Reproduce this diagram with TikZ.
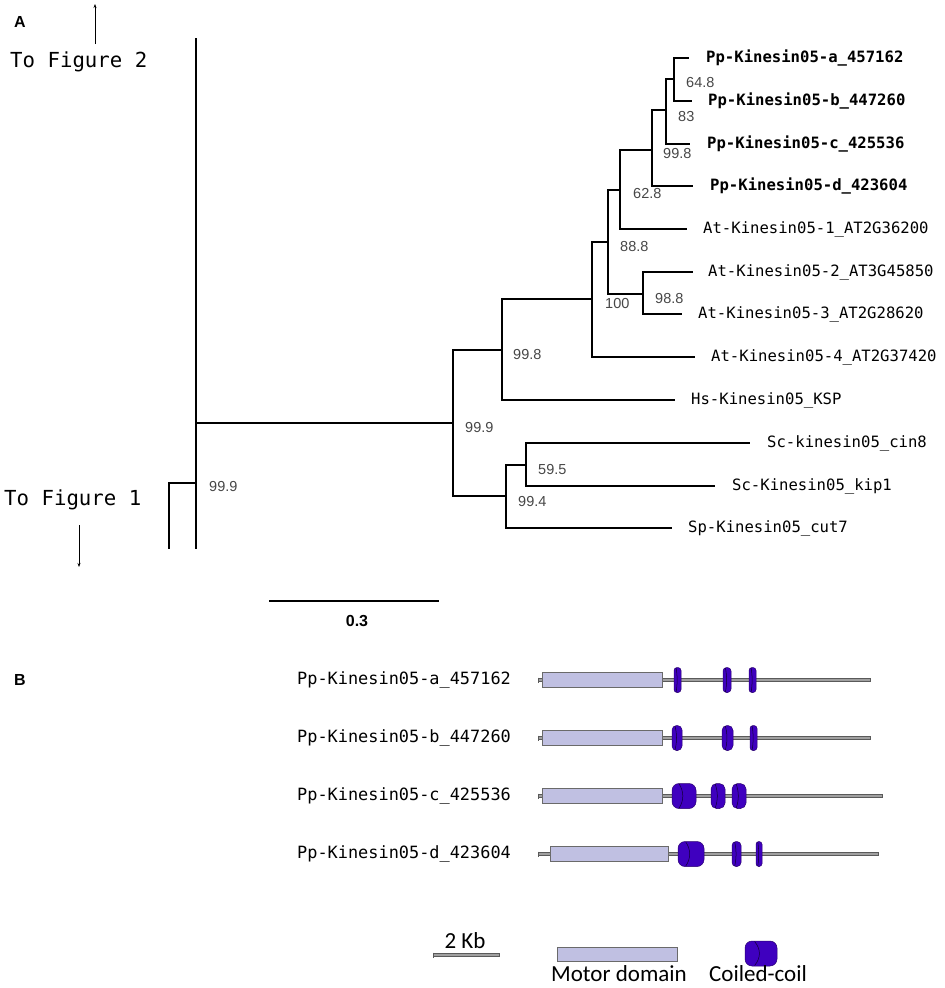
\documentclass[tikz,border=0pt]{standalone}
\usepackage{fontspec}
\setmainfont{Liberation Sans}
\newfontfamily\monofont{DejaVu Sans Mono}
\newfontfamily\calfont{Carlito}
\usetikzlibrary{arrows.meta,calc}
\definecolor{coilfill}{HTML}{3F00BF}
\definecolor{coiledge}{HTML}{2A0070}
\definecolor{motorfill}{HTML}{C0C0E2}
\definecolor{motoredge}{HTML}{6A6A6A}
\definecolor{bonefill}{HTML}{A0A0A0}
\definecolor{boneedge}{HTML}{5A5A5A}
\newcommand\mycoil[5]{% xl, xr, yc, h, r
  \filldraw[fill=coilfill,draw=coiledge,line width=0.5pt,rounded corners=#5]
    (#1,#3-#4/2) rectangle (#2,#3+#4/2);
  \draw[black!75!coilfill,line width=0.5pt]
    ({#1+0.3*(#2-#1)},#3-#4/2+0.5) .. controls ({#1+0.5*(#2-#1)},#3-#4/6) and ({#1+0.5*(#2-#1)},#3+#4/6) .. ({#1+0.3*(#2-#1)},#3+#4/2-0.5);
}
\newcommand\mymotor[3]{% xl, xr, yc
  \filldraw[fill=motorfill,draw=motoredge,line width=0.8pt] (#1,#3-7.5) rectangle (#2,#3+7.5);
}
\newcommand\mybone[3]{% xl, xr, yc
  \filldraw[fill=bonefill,draw=boneedge,line width=0.5pt] (#1,#3-1.6) rectangle (#2,#3+1.6);
  \draw[boneedge,line width=0.8pt] (#1,#3-2.5) -- (#1,#3+2.5);
}
\begin{document}
\begin{tikzpicture}[x=1pt,y=-1pt,
  branch/.style={line width=1.2pt,black},
  rootline/.style={line width=2.8pt,black},
  leaf/.style={font=\monofont\fontsize{15.6}{18}\selectfont, anchor=west, inner sep=0pt},
  pleaf/.style={font=\monofont\bfseries\fontsize{15.6}{18}\selectfont, anchor=west, inner sep=0pt},
  boot/.style={font=\fontsize{14.5}{16}\selectfont, text=black!72, anchor=west, inner sep=0pt},
  panel/.style={font=\bfseries\fontsize{16}{18}\selectfont, inner sep=0pt},
  figref/.style={font=\monofont\fontsize{20.7}{24}\selectfont, anchor=west, inner sep=0pt},
  rowlab/.style={font=\monofont\fontsize{16.9}{20}\selectfont, anchor=west, inner sep=0pt},
  legtext/.style={font=\calfont\fontsize{23}{26}\selectfont, inner sep=0pt},
  refarrow/.style={line width=0.7pt,-{Stealth[length=4pt,width=3pt]}}
]
\useasboundingbox (0,0) rectangle (945,988);
\fill[white] (0,0) rectangle (945,988);

% ---------- Panel A ----------
\node[panel] (pA) at (20,22) {A};
\node[figref] (tf2) at (10,62) {To Figure 2};
\coordinate (tf2a) at (95,44);
\coordinate (tf2b) at (95,4);
\draw[refarrow] (tf2a) -- (tf2b);
\node[figref] (tf1) at (4,500) {To Figure 1};
\coordinate (tf1a) at (79,525);
\coordinate (tf1b) at (79,567);
\draw[refarrow] (tf1a) -- (tf1b);

% internal nodes
\coordinate (rtop) at (196,38);
\coordinate (rbot) at (196,549);
\coordinate (rA) at (196,423);
\coordinate (rB) at (196,483);
\coordinate (lfb) at (169,549);
\coordinate (n999) at (453,423);
\coordinate (n998) at (502,350);
\coordinate (n100) at (592,299);
\coordinate (n888) at (608,242);
\coordinate (n628) at (620,190);
\coordinate (n998b) at (652,150);
\coordinate (n83) at (666,110);
\coordinate (n648) at (674,79);
\coordinate (n988) at (643,294);
\coordinate (n994) at (506,496);
\coordinate (n595) at (526,465);
% leaf ends
\coordinate (ePa) at (689,58);
\coordinate (ePb) at (692,101);
\coordinate (ePc) at (690,144);
\coordinate (ePd) at (693,186);
\coordinate (eA1) at (687,229);
\coordinate (eA2) at (693,272);
\coordinate (eA3) at (682,314);
\coordinate (eA4) at (695,357);
\coordinate (eHs) at (675,400);
\coordinate (eC8) at (750,443);
\coordinate (eK1) at (715,486);
\coordinate (eSp) at (672,528);

% root
\draw[rootline] (rtop) -- (rbot);
\draw[branch] (rA) -- (n999);
\draw[branch] (rB) -| (lfb);
% tree branches
\draw[branch] (n999) |- (n998);
\draw[branch] (n999) |- (n994);
\draw[branch] (n998) |- (n100);
\draw[branch] (n998) |- (eHs);
\draw[branch] (n100) |- (n888);
\draw[branch] (n100) |- (eA4);
\draw[branch] (n888) |- (n628);
\draw[branch] (n888) |- (n988);
\draw[branch] (n628) |- (n998b);
\draw[branch] (n628) |- (eA1);
\draw[branch] (n998b) |- (n83);
\draw[branch] (n998b) |- (ePd);
\draw[branch] (n83) |- (n648);
\draw[branch] (n83) |- (ePc);
\draw[branch] (n648) |- (ePa);
\draw[branch] (n648) |- (ePb);
\draw[branch] (n988) |- (eA2);
\draw[branch] (n988) |- (eA3);
\draw[branch] (n994) |- (n595);
\draw[branch] (n994) |- (eSp);
\draw[branch] (n595) |- (eC8);
\draw[branch] (n595) |- (eK1);

% leaf labels
\node[pleaf] (lPa) at (706,58) {Pp-Kinesin05-a\_457162};
\node[pleaf] (lPb) at (708,101) {Pp-Kinesin05-b\_447260};
\node[pleaf] (lPc) at (707,144) {Pp-Kinesin05-c\_425536};
\node[pleaf] (lPd) at (710,186) {Pp-Kinesin05-d\_423604};
\node[leaf] (lA1) at (703,229) {At-Kinesin05-1\_AT2G36200};
\node[leaf] (lA2) at (708,272) {At-Kinesin05-2\_AT3G45850};
\node[leaf] (lA3) at (698,314) {At-Kinesin05-3\_AT2G28620};
\node[leaf] (lA4) at (711,357) {At-Kinesin05-4\_AT2G37420};
\node[leaf] (lHs) at (691,400) {Hs-Kinesin05\_KSP};
\node[leaf] (lC8) at (767,443) {Sc-kinesin05\_cin8};
\node[leaf] (lK1) at (732,486) {Sc-Kinesin05\_kip1};
\node[leaf] (lSp) at (688,528) {Sp-Kinesin05\_cut7};

% bootstrap values
\node[boot] (b648) at ([shift={(12,4)}]n648) {64.8};
\node[boot] (b83) at ([shift={(12,7)}]n83) {83};
\node[boot] (b998b) at ([shift={(11,4)}]n998b) {99.8};
\node[boot] (b628) at ([shift={(13,4)}]n628) {62.8};
\node[boot] (b888) at ([shift={(12,5)}]n888) {88.8};
\node[boot] (b100) at ([shift={(13,5)}]n100) {100};
\node[boot] (b988) at ([shift={(12,5)}]n988) {98.8};
\node[boot] (b998) at ([shift={(11,5)}]n998) {99.8};
\node[boot] (b999) at ([shift={(12,5)}]n999) {99.9};
\node[boot] (b595) at ([shift={(12,5)}]n595) {59.5};
\node[boot] (b994) at ([shift={(12,6)}]n994) {99.4};
\node[boot] (broot) at ([shift={(13,4)}]rB) {99.9};

% scale bar
\coordinate (sb1) at (269,601);
\coordinate (sb2) at (439,601);
\draw[branch] (sb1) -- (sb2);
\node[panel] (sbl) at (357,621) {0.3};

% ---------- Panel B ----------
\node[panel] (pB) at (20,680) {B};
\node[rowlab] (ra) at (297,680) {Pp-Kinesin05-a\_457162};
\node[rowlab] (rb) at (297,738) {Pp-Kinesin05-b\_447260};
\node[rowlab] (rc) at (297,796) {Pp-Kinesin05-c\_425536};
\node[rowlab] (rd) at (297,854) {Pp-Kinesin05-d\_423604};

% row a
\mybone{538}{870}{680}
\mymotor{542}{662}{680}
\mycoil{674}{681}{680}{25}{3}
\mycoil{723}{731}{680}{25}{3.5}
\mycoil{749}{756}{680}{25}{3}
% row b
\mybone{538}{870}{738}
\mymotor{542}{662}{738}
\mycoil{672}{682}{738}{25}{4.5}
\mycoil{722}{733}{738}{25}{5}
\mycoil{750}{757}{738}{25}{3}
% row c
\mybone{538}{882}{796}
\mymotor{542}{662}{796}
\mycoil{672}{696}{796}{25}{7}
\mycoil{711}{725}{796}{25}{5.5}
\mycoil{732}{746}{796}{25}{5.5}
% row d
\mybone{538}{878}{854}
\mymotor{550}{668}{854}
\mycoil{678}{704}{854}{25}{7}
\mycoil{732}{741}{854}{25}{4}
\mycoil{756}{762}{854}{25}{2.8}

% legend
\mybone{433}{499}{955}
\node[legtext] (kb) at (465,941) {2 Kb};
\filldraw[fill=motorfill,draw=motoredge,line width=0.8pt] (557,947) rectangle (677,961);
\node[legtext] (md) at (619,974) {Motor domain};
\mycoil{745}{777}{953.5}{25}{7}
\node[legtext] (cc) at (758,974) {Coiled-coil};
\end{tikzpicture}
\end{document}
